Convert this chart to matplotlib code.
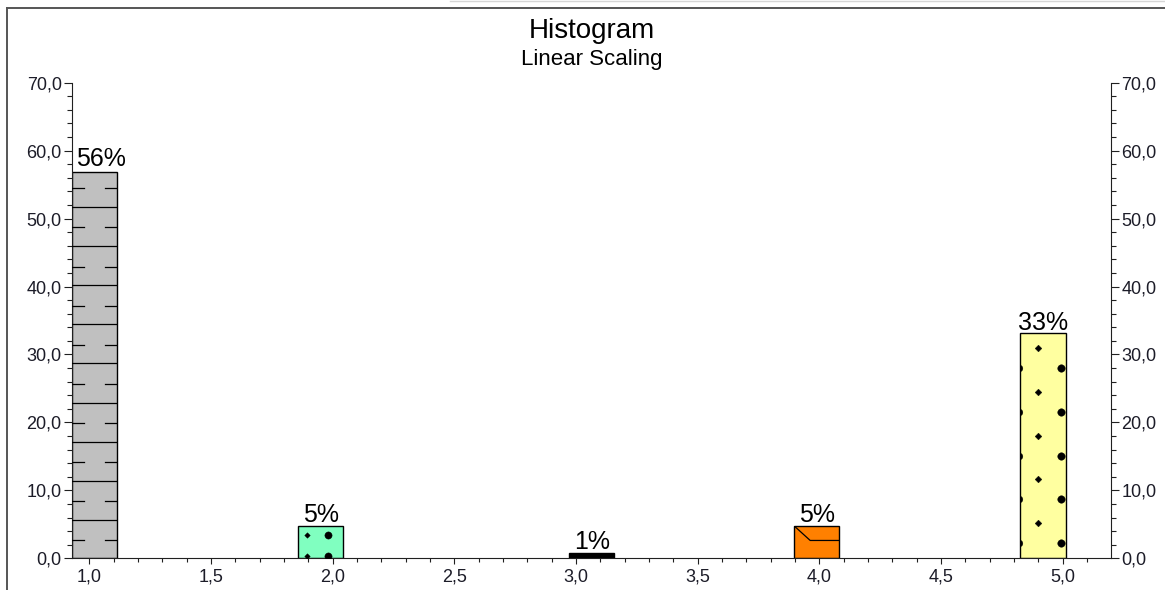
import matplotlib
matplotlib.use("Agg")
import matplotlib.pyplot as plt
from matplotlib.lines import Line2D
from matplotlib.transforms import IdentityTransform, offset_copy
from matplotlib.ticker import MultipleLocator, FuncFormatter

# ---------------- data ----------------
bin_centers = [1.022, 1.951, 3.065, 3.990, 4.920]
bin_width = 0.186
percent_values = [56.8, 4.76, 0.83, 4.76, 33.1]
bar_labels = ["56%", "5%", "1%", "5%", "33%"]
title_text = "Histogram"
subtitle_text = "Linear Scaling"

# ---------------- styles ----------------
fill_colors = ["#c0c0c0", "#80ffc0", "#000000", "#ff8000", "#ffffa0"]
W, H = 1165, 590
plt.rcParams["font.family"] = ["Liberation Sans", "DejaVu Sans"]

fig = plt.figure(figsize=(W / 100, H / 100), dpi=100)
ax_left, ax_right, ax_bottom, ax_top = 72, 1111, 558.3, 82.7
ax = fig.add_axes([ax_left / W, (H - ax_bottom) / H,
                   (ax_right - ax_left) / W, (ax_bottom - ax_top) / H])
ax.set_xlim(0.929, 5.199)
ax.set_ylim(0, 70)

bars = ax.bar(bin_centers, percent_values, width=bin_width, color=fill_colors,
              edgecolor="black", linewidth=1.0, zorder=2)

# axes styling
for side in ["left", "right", "bottom"]:
    ax.spines[side].set_linewidth(0.8)
    ax.spines[side].set_color("#202020")
ax.spines["top"].set_visible(False)

fmt = FuncFormatter(lambda v, _: f"{v:.1f}".replace(".", ","))
ax.xaxis.set_major_locator(MultipleLocator(0.5))
ax.xaxis.set_minor_locator(MultipleLocator(0.1))
ax.yaxis.set_major_locator(MultipleLocator(10))
ax.yaxis.set_minor_locator(MultipleLocator(2))
ax.xaxis.set_major_formatter(fmt)
ax.yaxis.set_major_formatter(fmt)

lab_col = "#1c1c28"
ax.tick_params(axis="y", which="major", direction="out", length=5.8, width=0.8,
               pad=1.6, labelsize=13, labelcolor=lab_col, color="#202020",
               left=True, right=True, labelleft=True, labelright=True)
ax.tick_params(axis="y", which="minor", direction="out", length=3.6, width=0.8,
               color="#202020", left=True, right=True)
ax.tick_params(axis="x", which="major", direction="out", length=4.3, width=0.8,
               pad=3.2, labelsize=13, labelcolor=lab_col, color="#202020")
ax.tick_params(axis="x", which="minor", direction="out", length=2.9, width=0.8,
               color="#202020")

ident = IdentityTransform()


def bar_px(p):
    x0, y0 = p.get_x(), p.get_y()
    L, B = ax.transData.transform((x0, y0))
    R, T = ax.transData.transform((x0 + p.get_width(), y0 + p.get_height()))
    return L, B, R, T


def add_line(p, xs, ys, **kw):
    ln = Line2D(xs, ys, transform=ident, color="black", linewidth=0.9,
                zorder=3, **kw)
    ax.add_artist(ln)
    ln.set_clip_path(p)
    return ln


def ladder(p, spacing=39.1, full_off=38.5, dash_off=18.0, dash_len=12.0):
    L, B, R, T = bar_px(p)
    y = B + full_off
    while y < T - 1:
        add_line(p, [L, R], [y, y])
        y += spacing
    y = B + dash_off
    while y < T - 1:
        add_line(p, [L, L + dash_len], [y, y])
        add_line(p, [R - dash_len, R], [y, y])
        y += spacing


def dots(p, columns):
    L, B, R, T = bar_px(p)
    for dx, first, step, marker, size in columns:
        ys = []
        y = B + first
        while y < T + size:
            ys.append(y)
            y += step
        add_line(p, [L + dx] * len(ys), ys, linestyle="none", marker=marker,
                 markersize=size, markerfacecolor="black",
                 markeredgecolor="black", markeredgewidth=0.3)


def chevron(p, dx=16.0, dy=14.5):
    L, B, R, T = bar_px(p)
    add_line(p, [L, L + dx, R], [T, T - dy, T - dy])


ladder(bars[0])
dots(bars[1], [(9.0, 2.3, 21.0, "D", 2.8), (30.0, 2.3, 21.0, "o", 5.2)])
chevron(bars[3])
dots(bars[4], [(-1.8, 15.3, 43.7, "o", 4.8), (17.6, 35.3, 43.7, "D", 3.4),
               (41.0, 15.3, 43.7, "o", 5.4)])

# value labels
renderer = fig.canvas.get_renderer()
left_px = ax.transData.transform((ax.get_xlim()[0], 0))[0]
for c, v, lab in zip(bin_centers, percent_values, bar_labels):
    t = ax.text(c, v, lab, ha="center", va="baseline", fontsize=18,
                color="black", zorder=4,
                transform=offset_copy(ax.transData, fig=fig, y=3.5, units="dots"))
    bb = t.get_window_extent(renderer)
    if bb.x0 < left_px + 4:
        shift = left_px + 4 - bb.x0
        t.set_transform(offset_copy(ax.transData, fig=fig, x=shift, y=6.5,
                                    units="dots"))

# titles
cx = (ax_left + ax_right) / 2 / W
fig.text(cx, (H - 38.5) / H, title_text, ha="center", va="baseline",
         fontsize=20, color="black")
fig.text(cx, (H - 64.5) / H, subtitle_text, ha="center", va="baseline",
         fontsize=16, color="black")

# window frame
fig.add_artist(Line2D([6.5, W], [H - 7.5, H - 7.5], transform=ident,
                      color="#555555", linewidth=1.4))
fig.add_artist(Line2D([7.0, 7.0], [0, H - 7.5], transform=ident,
                      color="#555555", linewidth=1.4))
fig.add_artist(Line2D([450, W], [H - 0.5, H - 0.5], transform=ident,
                      color="#d6d6d6", linewidth=1.0))

fig.savefig("out.png", dpi=100)
